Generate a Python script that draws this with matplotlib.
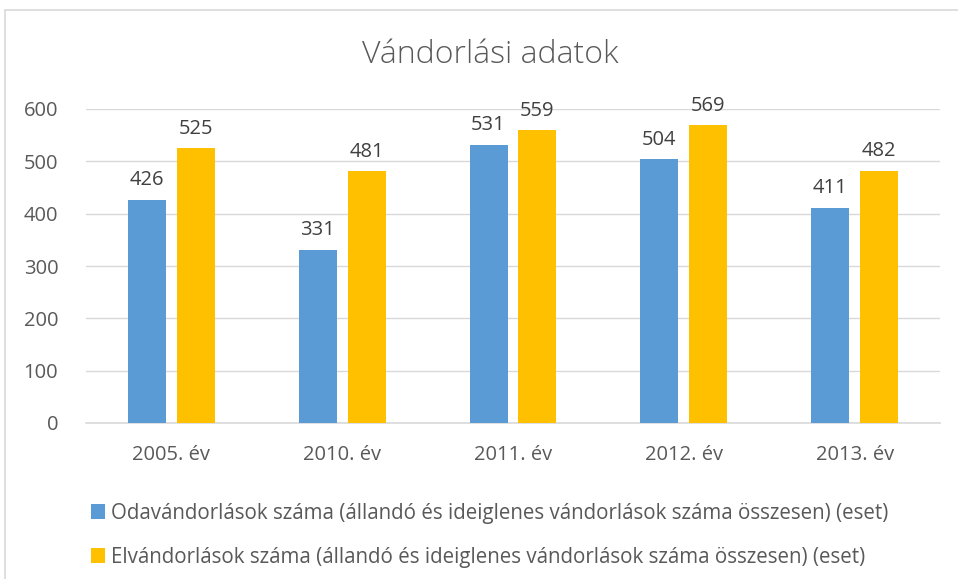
import numpy as np
import matplotlib.pyplot as plt
from matplotlib.patches import Rectangle

plt.rcParams['font.family'] = ['Open Sans', 'DejaVu Sans']

# adatok
kategoriak = ["2005. év", "2010. év", "2011. év", "2012. év", "2013. év"]
odavandorlas = [426, 331, 531, 504, 411]
elvandorlas = [525, 481, 559, 569, 482]
cimkek = ["Odavándorlások száma (állandó és ideiglenes vándorlások száma összesen) (eset)",
          "Elvándorlások száma (állandó és ideiglenes vándorlások száma összesen) (eset)"]

kek = "#5B9BD5"
sarga = "#FFC000"
szoveg = "#595959"

fig = plt.figure(figsize=(9.58, 5.79), dpi=100)
ax = fig.add_axes([86/958, 1-423/579, (940-86)/958, (423-109)/579])

x = np.arange(len(kategoriak))
w = 0.222
b1 = ax.bar(x - 0.143, odavandorlas, w, color=kek, label=cimkek[0], zorder=3)
b2 = ax.bar(x + 0.143, elvandorlas, w, color=sarga, label=cimkek[1], zorder=3)

for bars in (b1, b2):
    for r in bars:
        ax.annotate(str(int(r.get_height())), (r.get_x() + r.get_width()/2, r.get_height()),
                    xytext=(0, 7), textcoords="offset points", ha="center", va="bottom",
                    fontsize=14.5, color="#404040")

ax.set_xlim(-0.5, len(kategoriak) - 0.5)
ax.set_ylim(0, 600)
ax.set_yticks(range(0, 601, 100))
ax.set_xticks(x)
ax.set_xticklabels(kategoriak)
ax.tick_params(axis="both", length=0, labelsize=14.5, labelcolor=szoveg)
ax.tick_params(axis="y", pad=20)
ax.tick_params(axis="x", pad=16)
ax.grid(axis="y", color="#D9D9D9", linewidth=1, zorder=0)
for s in ["top", "right", "left"]:
    ax.spines[s].set_visible(False)
ax.spines["bottom"].set_color("#D9D9D9")
ax.spines["bottom"].set_linewidth(1.2)

fig.text(490/958, 1-55/579, "Vándorlási adatok", ha="center", va="center",
         fontsize=23, color=szoveg, fontweight="light")

fig.legend(loc="upper left", bbox_to_anchor=(72/958, 1-484/579), frameon=False,
           fontsize=14.8, labelcolor=szoveg, handlelength=0.7, handleheight=0.7,
           handletextpad=0.3, labelspacing=1.12)

fig.patches.append(Rectangle((5/958, -0.05), 1.0, 1 - 10/579 + 0.05, transform=fig.transFigure,
                             fill=False, edgecolor="#D9D9D9", linewidth=1.2))

plt.savefig("out.png", dpi=100)
